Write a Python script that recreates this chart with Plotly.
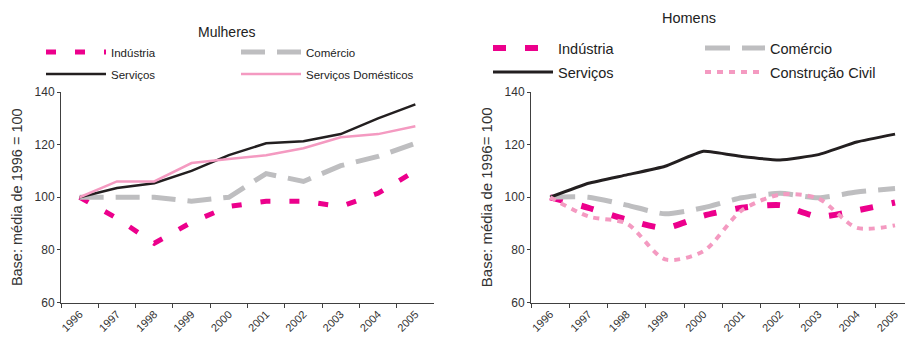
import plotly.graph_objects as go

W, H = 905, 345

anos = ["1996", "1997", "1998", "1999", "2000", "2001", "2002", "2003", "2004", "2005"]

# Mulheres
m_industria = [100, 92, 82.5, 90.5, 96.5, 98.5, 98.5, 96.5, 101.5, 110]
m_comercio = [100, 100, 100, 98.5, 100, 109, 106, 112, 115.5, 120.5]
m_servicos = [100, 103.5, 105.3, 110, 116, 120.5, 121.3, 124, 130, 135.3]
m_serv_dom = [100, 106, 106, 113, 114.5, 116, 118.6, 122.8, 124, 127]

# Homens
h_industria = [100, 96, 91.5, 88.3, 93, 96, 97, 92.6, 95, 98]
h_comercio = [100, 100, 97, 93.7, 96, 99.8, 101.5, 99.8, 102, 103.3]
h_servicos = [100, 105.3, 108.5, 111.8, 117.5, 115.5, 114.2, 116.2, 121, 124]
h_construcao = [100, 92.7, 90, 76.4, 79.5, 95, 101, 99.5, 88.4, 89.3]

FONT = "Liberation Sans, Arial, sans-serif"
MAGENTA = "#EC008C"
CINZA = "#BEBEC0"
PRETO = "#231F20"
ROSA = "#F49AC1"
EIXO = "#404040"


def px_x(v):
    return v / W


def px_y(v):
    return 1 - v / H


fig = go.Figure()

left = [
    ("Indústria", m_industria, dict(color=MAGENTA, width=5, dash="10px,19px"), "legend"),
    ("Comércio", m_comercio, dict(color=CINZA, width=5, dash="24px,12px"), "legend2"),
    ("Serviços", m_servicos, dict(color=PRETO, width=2.5), "legend3"),
    ("Serviços Domésticos", m_serv_dom, dict(color=ROSA, width=2.5), "legend4"),
]
for nome, vals, ln, lg in left:
    fig.add_trace(go.Scatter(x=anos, y=vals, mode="lines", name=nome, line=ln,
                             xaxis="x", yaxis="y", legend=lg, showlegend=True))

right = [
    ("Indústria", h_industria, dict(color=MAGENTA, width=6, dash="13px,19px", shape="spline", smoothing=0.6), "legend5"),
    ("Comércio", h_comercio, dict(color=CINZA, width=5, dash="25px,12px", shape="spline", smoothing=0.6), "legend6"),
    ("Serviços", h_servicos, dict(color=PRETO, width=3, shape="spline", smoothing=0.4), "legend7"),
    ("Construção Civil", h_construcao, dict(color=ROSA, width=4, dash="6px,6px", shape="spline", smoothing=0.8), "legend8"),
]
for nome, vals, ln, lg in right:
    fig.add_trace(go.Scatter(x=anos, y=vals, mode="lines", name=nome, line=ln,
                             xaxis="x2", yaxis="y2", legend=lg, showlegend=True))

ydom = [px_y(302.5), px_y(92)]
common_x = dict(type="category", showline=True, linecolor=EIXO, linewidth=1,
                ticks="outside", ticklen=4, tickcolor=EIXO, tickson="boundaries",
                tickangle=-45, tickfont=dict(family=FONT, size=11, color="#333"),
                showgrid=False, zeroline=False, automargin=False)
common_y = dict(range=[60, 140], dtick=20, showline=True, linecolor=EIXO, linewidth=1,
                ticks="outside", ticklen=3, tickcolor=EIXO,
                tickfont=dict(family=FONT, size=12, color="#333"),
                showgrid=False, zeroline=False, automargin=False)

fig.update_layout(
    width=W, height=H,
    margin=dict(l=0, r=0, t=0, b=0, autoexpand=False),
    paper_bgcolor="white", plot_bgcolor="white",
    showlegend=True,
    font=dict(family=FONT, size=12, color="#333"),
    xaxis=dict(common_x, domain=[px_x(61), px_x(434)], range=[-0.5, 9.5]),
    yaxis=dict(common_y, domain=ydom, anchor="x",
               title=dict(text="Base: média de 1996 = 100",
                          font=dict(family=FONT, size=14.5, color="#333"), standoff=8)),
    xaxis2=dict(common_x, domain=[px_x(531), 1.0], range=[-0.5, 9.26], anchor="y2"),
    yaxis2=dict(common_y, domain=ydom, anchor="x2",
                title=dict(text="Base: média de 1996= 100",
                           font=dict(family=FONT, size=15, color="#333"), standoff=8)),
)

# one legend per entry so each sits at its own spot in the two-column key
leg_pos = {
    "legend": (41, 52, 11.5), "legend2": (236, 52, 11.5),
    "legend3": (41, 74, 11.5), "legend4": (236, 74, 11.5),
    "legend5": (488, 48, 14.5), "legend6": (700, 48, 14.5),
    "legend7": (488, 72, 14.5), "legend8": (700, 72, 14.5),
}
for k, (lx, ly, fs) in leg_pos.items():
    fig.update_layout({k: dict(x=px_x(lx), y=px_y(ly), xanchor="left", yanchor="middle",
                               bgcolor="rgba(0,0,0,0)", itemwidth=60,
                               font=dict(family=FONT, size=fs, color="#222"),
                               tracegroupgap=0)})

fig.add_annotation(text="Mulheres", x=px_x(227), y=px_y(32), xref="paper", yref="paper",
                   xanchor="center", yanchor="middle", showarrow=False,
                   font=dict(family=FONT, size=14, color="#222"))
fig.add_annotation(text="Homens", x=px_x(689), y=px_y(18), xref="paper", yref="paper",
                   xanchor="center", yanchor="middle", showarrow=False,
                   font=dict(family=FONT, size=14.5, color="#222"))

fig.write_html("out.html")
